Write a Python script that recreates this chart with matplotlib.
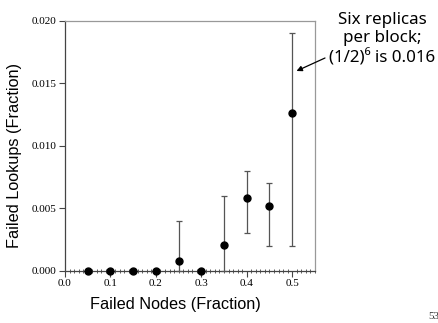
import numpy as np
import matplotlib
matplotlib.use('Agg')
import matplotlib.pyplot as plt
from matplotlib.ticker import MultipleLocator, FormatStrFormatter

# failed nodes fraction vs failed lookups fraction
failed_nodes = [0.05, 0.10, 0.15, 0.20, 0.25, 0.30, 0.35, 0.40, 0.45, 0.50]
failed_lookups = [0.0, 0.0, 0.0, 0.0, 0.0008, 0.0, 0.0021, 0.0058, 0.0052, 0.0126]
err_low = [0.0, 0.0, 0.0, 0.0, 0.0, 0.0, 0.0, 0.003, 0.002, 0.002]
err_high = [0.0, 0.0, 0.0, 0.0, 0.004, 0.0, 0.006, 0.008, 0.007, 0.019]

y = np.array(failed_lookups)
yerr = [y - np.array(err_low), np.array(err_high) - y]

fig = plt.figure(figsize=(4.38, 3.23), dpi=100)
ax = fig.add_axes([0.1484, 0.161, 0.5706, 0.774])

ax.errorbar(failed_nodes, failed_lookups, yerr=yerr, fmt='o', color='black',
            ms=5, ecolor='#555555', elinewidth=0.9, capsize=2.5, capthick=0.9,
            clip_on=False, zorder=3)

ax.set_xlim(0, 0.55)
ax.set_ylim(0, 0.02)
ax.xaxis.set_major_locator(MultipleLocator(0.1))
ax.xaxis.set_minor_locator(MultipleLocator(0.01))
ax.yaxis.set_major_locator(MultipleLocator(0.005))
ax.xaxis.set_major_formatter(FormatStrFormatter('%.1f'))
ax.yaxis.set_major_formatter(FormatStrFormatter('%.3f'))

ax.tick_params(axis='both', which='major', direction='out', length=4, width=0.8,
               color='#444444', labelsize=8, pad=2)
ax.tick_params(axis='x', which='minor', direction='inout', length=3, width=0.6,
               color='#444444')
for lbl in ax.get_xticklabels() + ax.get_yticklabels():
    lbl.set_family('Liberation Serif')

for side in ['left', 'bottom']:
    ax.spines[side].set_color('#444444')
    ax.spines[side].set_linewidth(0.9)
for side in ['top', 'right']:
    ax.spines[side].set_color('#999999')
    ax.spines[side].set_linewidth(0.9)

ax.set_xlabel('Failed Nodes (Fraction)', family='Liberation Sans', fontsize=11.7)
ax.set_ylabel('Failed Lookups (Fraction)', family='Liberation Sans', fontsize=11.7)
ax.xaxis.set_label_coords(0.44, -0.105)
ax.yaxis.set_label_coords(-0.172, 0.46)

fig.text(0.873, 0.879, 'Six replicas\nper block;\n(1/2)\u2076 is 0.016', ha='center', va='center',
         family=['Noto Sans', 'DejaVu Sans'], fontsize=12.2, linespacing=1.22)
ax.annotate('', xy=(0.5095, 0.016), xycoords='data',
            xytext=(325 / 438, 1 - 58 / 323), textcoords='figure fraction',
            arrowprops=dict(arrowstyle='-|>', color='black', lw=0.9,
                            mutation_scale=8, shrinkA=0, shrinkB=0))

# page number, partly cut off at the right edge
fig.text(0.977, 0.012, '53', family='Liberation Serif', fontsize=8, color='#333333')

fig.savefig('out.png', dpi=100)
